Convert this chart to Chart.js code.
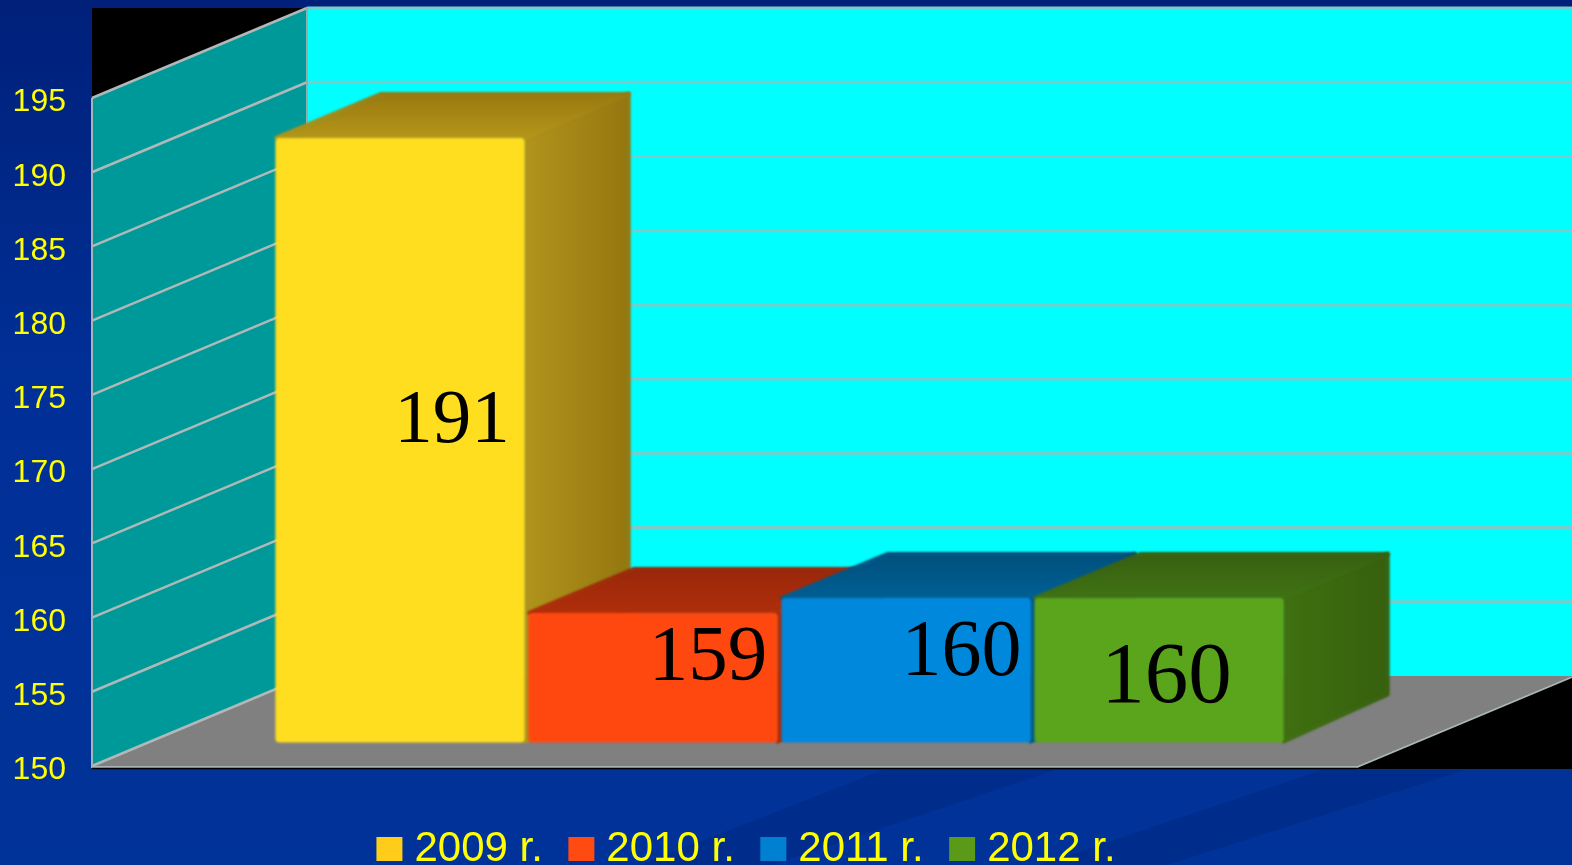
<!DOCTYPE html>
<html><head><meta charset="utf-8">
<style>html,body{margin:0;padding:0;background:#003399;overflow:hidden}canvas{display:block}</style>
<script src="https://cdn.jsdelivr.net/npm/chart.js@4"></script>
</head><body>
<canvas id="c" width="1572" height="865" style="width:1572px;height:865px"></canvas>
<script>
const categories = ['2009 r.', '2010 r.', '2011 r.', '2012 r.'];
const values = [191, 159, 160, 160];
const yMin = 150, yMax = 195, yStep = 5;
const barColors = ['#ffdd1f', '#ff480f', '#0088dd', '#5ba51c'];
const legendColors = ['#ffcc19', '#ff4a11', '#0080d0', '#5a9a18'];
const sideColors = [['#b0941c', '#947610'], ['#a82c08', '#8a2406'], ['#005a8a', '#004c78'], ['#3f7010', '#37600e']];
const topColors = [['#98780f', '#b4961a'], ['#98280a', '#b02e0a'], ['#00507c', '#005f94'], ['#38600f', '#407214']];
const labelOffsets = [[107, 264], [110, 26], [110.5, 36], [62.5, 62]];
const labelSizes = [77, 79, 80, 87];

const WALL = {dx: 215, dy: 90}, BAR = {dx: 106, dy: 46}, SHIFT = {dx: 55, dy: -19.5};

const origBarDraw = Chart.BarElement.prototype.draw;
Chart.BarElement.prototype.draw = function (ctx) {
  if (!Number.isFinite(this.y)) return;
  const i = this.$context.dataIndex - 1;
  const L = this.x - this.width / 2 + SHIFT.dx, R = L + this.width;
  const T = this.y + SHIFT.dy, B = this.base + SHIFT.dy;
  ctx.save();
  ctx.filter = 'blur(1px)';
  ctx.lineJoin = 'round';
  const sg = ctx.createLinearGradient(R, 0, R + BAR.dx, 0);
  sg.addColorStop(0, sideColors[i][0]); sg.addColorStop(1, sideColors[i][1]);
  ctx.fillStyle = sg; ctx.strokeStyle = sg; ctx.lineWidth = 4;
  ctx.beginPath();
  ctx.moveTo(R, T); ctx.lineTo(R + BAR.dx - 2, T - BAR.dy + 2); ctx.lineTo(R + BAR.dx - 2, B - BAR.dy - 2); ctx.lineTo(R, B - 1);
  ctx.closePath(); ctx.fill(); ctx.stroke();
  const tg = ctx.createLinearGradient(0, T - BAR.dy, 0, T);
  tg.addColorStop(0, topColors[i][0]); tg.addColorStop(1, topColors[i][1]);
  ctx.fillStyle = tg; ctx.strokeStyle = tg;
  ctx.beginPath();
  ctx.moveTo(L + 1, T); ctx.lineTo(L + BAR.dx, T - BAR.dy + 2); ctx.lineTo(R + BAR.dx - 2, T - BAR.dy + 2); ctx.lineTo(R, T);
  ctx.closePath(); ctx.fill(); ctx.stroke();
  ctx.translate(SHIFT.dx, SHIFT.dy);
  origBarDraw.call(this, ctx);
  ctx.restore();
};

const scene = {
  id: 'scene',
  beforeDraw(chart) {
    const {ctx, width, height} = chart;
    const g = ctx.createLinearGradient(0, 0, 0, height);
    g.addColorStop(0, '#00207a'); g.addColorStop(0.45, '#003097'); g.addColorStop(1, '#003399');
    ctx.fillStyle = g; ctx.fillRect(0, 0, width, height);
    ctx.fillStyle = '#002d8c';
    const bands = [[1322, 770, 1465, 770, 1167, 865, 1040, 865], [883, 770, 1055, 770, 772, 865, 640, 865]];
    for (const b of bands) {
      ctx.beginPath(); ctx.moveTo(b[0], b[1]); ctx.lineTo(b[2], b[3]); ctx.lineTo(b[4], b[5]); ctx.lineTo(b[6], b[7]); ctx.closePath(); ctx.fill();
    }
  },
  beforeDatasetsDraw(chart) {
    const {ctx, scales: {y}, chartArea: a, width} = chart;
    const top = y.getPixelForValue(yMax), bot = y.getPixelForValue(yMin);
    const bx = a.left + WALL.dx;
    ctx.save();
    ctx.fillStyle = '#000000'; ctx.fillRect(a.left, top - WALL.dy, width - a.left, bot - top + WALL.dy + 3);
    ctx.fillStyle = '#00ffff'; ctx.fillRect(bx, top - WALL.dy, width - bx, bot - top);
    ctx.fillStyle = '#009999';
    ctx.beginPath(); ctx.moveTo(a.left, top); ctx.lineTo(bx, top - WALL.dy); ctx.lineTo(bx, bot - WALL.dy); ctx.lineTo(a.left, bot); ctx.closePath(); ctx.fill();
    ctx.fillStyle = '#808080';
    ctx.beginPath(); ctx.moveTo(a.left, bot); ctx.lineTo(bx, bot - WALL.dy); ctx.lineTo(a.right + WALL.dx, bot - WALL.dy); ctx.lineTo(a.right, bot); ctx.closePath(); ctx.fill();
    for (const t of y.ticks) {
      const py = y.getPixelForValue(t.value);
      if (t.value > yMin) {
        ctx.strokeStyle = '#78cccc'; ctx.lineWidth = 3;
        ctx.beginPath(); ctx.moveTo(bx, py - WALL.dy); ctx.lineTo(width, py - WALL.dy); ctx.stroke();
      }
      ctx.strokeStyle = '#b0b8b8'; ctx.lineWidth = 2.5;
      ctx.beginPath(); ctx.moveTo(a.left, py); ctx.lineTo(bx, py - WALL.dy); ctx.stroke();
    }
    ctx.strokeStyle = '#a8b4b4'; ctx.lineWidth = 2;
    ctx.beginPath(); ctx.moveTo(a.left, top); ctx.lineTo(a.left, bot + 1); ctx.lineTo(a.right, bot + 1); ctx.lineTo(a.right + WALL.dx, bot + 1 - WALL.dy); ctx.stroke();
    ctx.strokeStyle = '#90b0b0';
    ctx.beginPath(); ctx.moveTo(bx, top - WALL.dy); ctx.lineTo(bx, bot - WALL.dy); ctx.stroke();
    ctx.strokeStyle = '#000000'; ctx.lineWidth = 1.5;
    ctx.beginPath(); ctx.moveTo(a.left, bot + 2.5); ctx.lineTo(a.right, bot + 2.5); ctx.stroke();
    ctx.restore();
  },
  afterDatasetsDraw(chart) {
    const {ctx} = chart;
    const els = chart.getDatasetMeta(0).data.slice(1, values.length + 1);
    ctx.save();
    ctx.fillStyle = '#000000'; ctx.textAlign = 'center'; ctx.textBaseline = 'middle';
    els.forEach((el, i) => {
      ctx.font = labelSizes[i] + 'px "Liberation Serif"';
      ctx.fillText(String(values[i]), el.x + labelOffsets[i][0], el.y + labelOffsets[i][1]);
    });
    ctx.restore();
  },
  afterLayout(chart) {
    const l = chart.legend;
    l.top = 793.5; l.bottom = 900; l.left = -35.5; l.right = l.left + 1572;
  }
};

new Chart(document.getElementById('c'), {
  type: 'bar',
  data: {
    labels: ['', ...categories, ''],
    datasets: [{
      data: [null, ...values, null],
      backgroundColor: ['transparent', ...barColors, 'transparent'],
      borderSkipped: false,
      borderRadius: 4,
      base: 150.27,
      clip: false,
      barPercentage: 0.985,
      categoryPercentage: 1
    }]
  },
  options: {
    responsive: false,
    animation: false,
    events: [],
    layout: {padding: {top: 98, left: 0, right: 215, bottom: 12.5}},
    scales: {
      x: {display: false, offset: false, grid: {display: false}},
      y: {
        min: yMin, max: yMax,
        grid: {display: false}, border: {display: false},
        afterFit(s) {
          s.width = 92;
          if (!s._nudged) {
            s._nudged = true;
            const compute = s._computeLabelItems.bind(s);
            s._computeLabelItems = (area) => compute(area).map((it) => {
              it.options.translation = [it.options.translation[0], it.options.translation[1] + 4.5];
              return it;
            });
          }
        },
        ticks: {stepSize: yStep, color: '#ffff00', padding: 18, font: {family: '"Liberation Sans"', size: 32}}
      }
    },
    plugins: {
      tooltip: {enabled: false},
      legend: {
        position: 'bottom',
        labels: {
          color: '#ffff00', padding: 34.5, boxWidth: 8, boxHeight: 6,
          font: {family: '"Liberation Sans"', size: 42},
          generateLabels: () => categories.map((t, i) => ({
            text: t, fillStyle: legendColors[i], strokeStyle: legendColors[i], lineWidth: 18, fontColor: '#ffff00', datasetIndex: 0, index: i
          }))
        }
      }
    }
  },
  plugins: [scene]
});
</script>
</body></html>
